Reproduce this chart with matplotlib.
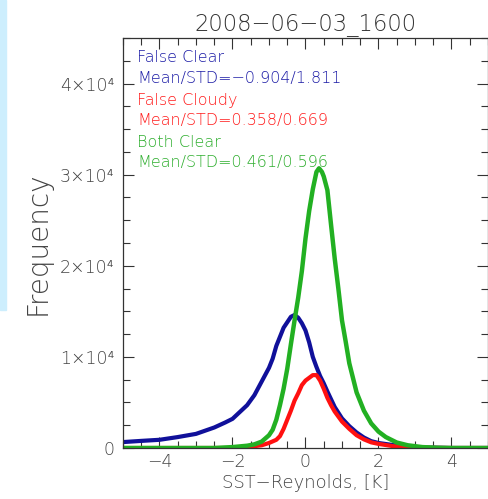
import matplotlib.pyplot as plt
import numpy as np
from matplotlib.patches import Rectangle
from matplotlib.ticker import MultipleLocator, FuncFormatter

# SST - Reynolds difference [K] and histogram counts
x_clear = [-5, -4.5, -4, -3.5, -3, -2.5, -2.2, -2, -1.8, -1.6, -1.4, -1.2, -1.0,
           -0.9, -0.8, -0.6, -0.4, -0.3, -0.2, -0.1, 0.0, 0.1, 0.2, 0.3, 0.4, 0.5,
           0.6, 0.8, 1.0, 1.2, 1.4, 1.6, 1.8, 2.0, 2.4, 2.8, 3.2, 4, 5]
false_clear = [650, 780, 900, 1200, 1550, 2250, 2800, 3200, 3950, 4700, 5800, 7300,
               8800, 9800, 11200, 13200, 14400, 14600, 14300, 13700, 12900, 11600,
               10000, 8900, 7900, 7100, 6200, 4500, 3250, 2400, 1700, 1150, 750,
               550, 320, 150, 60, 0, 0]

x_cloudy = [-5, -2, -1.6, -1.2, -1.0, -0.8, -0.7, -0.6, -0.5, -0.4, -0.3, -0.2,
            -0.1, 0.0, 0.1, 0.2, 0.3, 0.4, 0.5, 0.6, 0.7, 0.8, 1.0, 1.2, 1.4, 1.6,
            1.8, 2.0, 2.4, 2.8, 3.2, 4, 5]
false_cloudy = [0, 0, 100, 300, 550, 900, 1300, 2100, 3100, 4100, 5200, 6000, 6900,
                7400, 7700, 8000, 8000, 7400, 6500, 5500, 4700, 4000, 2900, 2100,
                1400, 950, 620, 450, 200, 80, 20, 0, 0]

x_both = [-5, -2.5, -2, -1.6, -1.4, -1.2, -1.0, -0.9, -0.8, -0.7, -0.6, -0.5, -0.4,
          -0.3, -0.2, -0.1, 0.0, 0.1, 0.2, 0.3, 0.37, 0.45, 0.5, 0.6, 0.7, 0.8, 0.9,
          1.0, 1.1, 1.2, 1.4, 1.6, 1.8, 2.0, 2.2, 2.5, 2.8, 3.2, 3.6, 4, 5]
both_clear = [0, 0, 100, 250, 400, 700, 1400, 2000, 3100, 4700, 6500, 8700, 11400,
              14000, 16500, 19400, 23000, 26000, 28400, 30300, 30700, 30300, 29800,
              28300, 24500, 20800, 17500, 14000, 11700, 9300, 6100, 4100, 2700,
              1800, 1200, 600, 300, 100, 30, 0, 0]

labels = ["False Clear", "Mean/STD=\u22120.904/1.811",
          "False Cloudy", "Mean/STD=0.358/0.669",
          "Both Clear", "Mean/STD=0.461/0.596"]

plt.rcParams['font.weight'] = 'light'
plt.rcParams['axes.titleweight'] = 'light'
plt.rcParams['axes.labelweight'] = 'light'

fig = plt.figure(figsize=(4.89, 4.99), dpi=100)
fig.patches.append(Rectangle((0, 1 - 310 / 499), 6 / 489, 310 / 499,
                             transform=fig.transFigure, color='#cdeefd', zorder=0))
ax = fig.add_axes([123 / 489, 1 - 448 / 499, 365 / 489, 410 / 499])

ax.plot(x_clear, false_clear, color='#10109a', lw=3)
ax.plot(x_cloudy, false_cloudy, color='#ff1010', lw=3)
ax.plot(x_both, both_clear, color='#22b022', lw=3.2)

ax.set_xlim(-5, 5)
ax.set_ylim(0, 45000)
ax.xaxis.set_major_locator(MultipleLocator(2))
ax.xaxis.set_minor_locator(MultipleLocator(0.5))
ax.yaxis.set_major_locator(MultipleLocator(10000))
ax.yaxis.set_minor_locator(MultipleLocator(2500))
ax.yaxis.set_major_formatter(FuncFormatter(
    lambda v, p: '0' if v == 0 else '%d\u00d710\u2074' % round(v / 10000)))
ax.tick_params(which='both', direction='in', top=True, right=True,
               colors='#333333', labelcolor='#444444', labelsize=12.5, width=0.8)
ax.tick_params(which='major', length=8)
ax.tick_params(which='minor', length=5)
ax.tick_params(axis='y', pad=6)
for s in ax.spines.values():
    s.set_color('#333333')
    s.set_linewidth(0.9)

ax.set_title("2008\u221206\u221203_1600", fontsize=16.3, color='#333333', pad=6)
ax.set_xlabel("SST\u2212Reynolds, [K]", fontsize=13, color='#444444', labelpad=2)
ax.set_ylabel("Frequency", fontsize=20, color='#444444', labelpad=6)

colors = ['#1c1ca6', '#1c1ca6', '#ff1c1c', '#ff1c1c', '#2eae2e', '#2eae2e']
ys = [57, 79, 100, 121, 142, 162]
for t, c, yp in zip(labels, colors, ys):
    fig.text(137 / 489, 1 - yp / 499, t, color=c, fontsize=11.5, va='center', ha='left')

fig.savefig('out.png', dpi=100)
